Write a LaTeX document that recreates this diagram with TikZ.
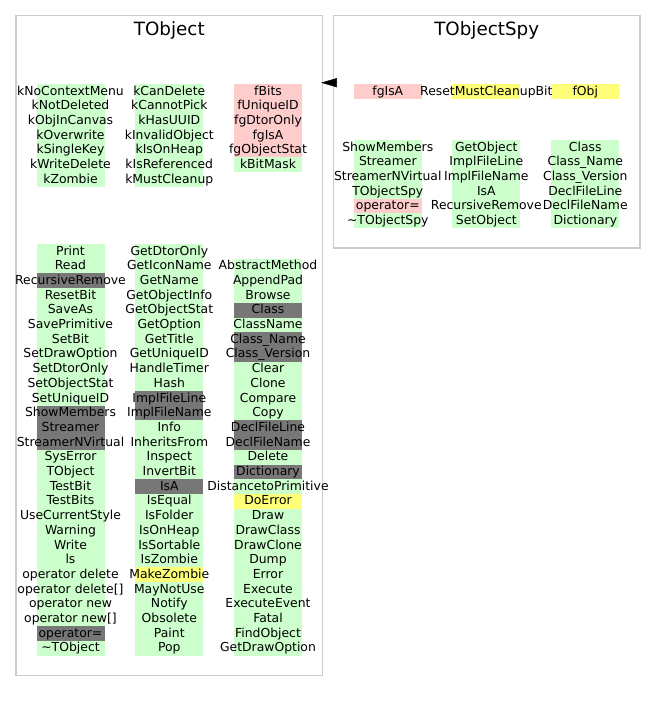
\documentclass[tikz,border=0pt]{standalone}
\usepackage{fontspec}
\setmainfont{DejaVu Sans}
\usetikzlibrary{arrows.meta}
\definecolor{G}{HTML}{CCFFCC}
\definecolor{P}{HTML}{FFCCCC}
\definecolor{K}{HTML}{777777}
\definecolor{Y}{HTML}{FFFF77}
\definecolor{edgegray}{HTML}{CCCCCC}
\pgfdeclarelayer{bg}
\pgfsetlayers{bg,main}
% one column of members: name, x, top, {text/colour, ...}
\newcommand\membercol[4]{%
  \foreach \txt/\clr [count=\i] in {#4} {
    \begin{pgfonlayer}{bg}
      \node[member, fill=\clr] (#1-\i) at (#2, #3+\i*14.7-7.35) {};
    \end{pgfonlayer}
    \node[membertext] (#1-\i-t) at (#1-\i) {\txt};
  }}
\begin{document}
\begin{tikzpicture}[x=1pt, y=-1pt,
    classbox/.style = {draw=edgegray, line width=1.3pt, minimum width=306.7pt, inner sep=0pt},
    classtitle/.style = {font=\fontsize{18.3}{22}\selectfont, anchor=base, inner sep=0pt},
    member/.style = {minimum width=68pt, minimum height=14.7pt, inner sep=0pt},
    membertext/.style = {font=\fontsize{12.4}{14.7}\selectfont, inner sep=0pt, text height=10pt, text depth=2.6pt},
    inherit/.style = {-{Triangle[length=15.6pt, width=9pt]}, black}]
  \useasboundingbox (0,0) rectangle (656,703);
  \begin{pgfonlayer}{bg}
    \fill[white] (0,0) rectangle (656,703);
  \end{pgfonlayer}
  % classes
  \node[classbox, minimum height=659.8pt] (tobject) at (169.35,345.6) {};
  \node[classbox, minimum height=232.3pt] (spy) at (486.65,131.85) {};
  \node[classtitle] (tobject-name) at (169.3,35.5) {TObject};
  \node[classtitle] (spy-name) at (486.7,35.5) {TObjectSpy};
  % TObject
  \membercol{objA}{70.5}{84}{kNoContextMenu/G, kNotDeleted/G, kObjInCanvas/G, kOverwrite/G, kSingleKey/G, kWriteDelete/G, kZombie/G}
  \membercol{objB}{169.3}{84}{kCanDelete/G, kCannotPick/G, kHasUUID/G, kInvalidObject/G, kIsOnHeap/G, kIsReferenced/G, kMustCleanup/G}
  \membercol{objC}{268}{84}{fBits/P, fUniqueID/P, fgDtorOnly/P, fgIsA/P, fgObjectStat/P, kBitMask/G}
  \membercol{objD}{70.5}{244}{Print/G, Read/G, RecursiveRemove/K, ResetBit/G, SaveAs/G, SavePrimitive/G, SetBit/G, SetDrawOption/G, SetDtorOnly/G, SetObjectStat/G, SetUniqueID/G, ShowMembers/K, Streamer/K, StreamerNVirtual/K, SysError/G, TObject/G, TestBit/G, TestBits/G, UseCurrentStyle/G, Warning/G, Write/G, ls/G, operator delete/G, operator delete[]/G, operator new/G, operator new[]/G, operator=/K, \textasciitilde TObject/G}
  \membercol{objE}{169.3}{244}{GetDtorOnly/G, GetIconName/G, GetName/G, GetObjectInfo/G, GetObjectStat/G, GetOption/G, GetTitle/G, GetUniqueID/G, HandleTimer/G, Hash/G, ImplFileLine/K, ImplFileName/K, Info/G, InheritsFrom/G, Inspect/G, InvertBit/G, IsA/K, IsEqual/G, IsFolder/G, IsOnHeap/G, IsSortable/G, IsZombie/G, MakeZombie/Y, MayNotUse/G, Notify/G, Obsolete/G, Paint/G, Pop/G}
  \membercol{objF}{268}{258.7}{AbstractMethod/G, AppendPad/G, Browse/G, Class/K, ClassName/G, Class\_Name/K, Class\_Version/K, Clear/G, Clone/G, Compare/G, Copy/G, DeclFileLine/K, DeclFileName/K, Delete/G, Dictionary/K, DistancetoPrimitive/G, DoError/Y, Draw/G, DrawClass/G, DrawClone/G, Dump/G, Error/G, Execute/G, ExecuteEvent/G, Fatal/G, FindObject/G, GetDrawOption/G}
  % TObjectSpy
  \membercol{spyA}{387.8}{84}{fgIsA/P}
  \membercol{spyB}{486.3}{84}{ResetMustCleanupBit/Y}
  \membercol{spyC}{585.3}{84}{fObj/Y}
  \membercol{spyD}{387.8}{140}{ShowMembers/G, Streamer/G, StreamerNVirtual/G, TObjectSpy/G, operator=/P, \textasciitilde TObjectSpy/G}
  \membercol{spyE}{486.3}{140}{GetObject/G, ImplFileLine/G, ImplFileName/G, IsA/G, RecursiveRemove/G, SetObject/G}
  \membercol{spyF}{585.3}{140}{Class/G, Class\_Name/G, Class\_Version/G, DeclFileLine/G, DeclFileName/G, Dictionary/G}
  % inheritance
  \coordinate (link) at (0,82.7);
  \draw[inherit] ([xshift=4pt]spy.west |- link) -- ([xshift=-2.2pt]tobject.east |- link);
\end{tikzpicture}
\end{document}
